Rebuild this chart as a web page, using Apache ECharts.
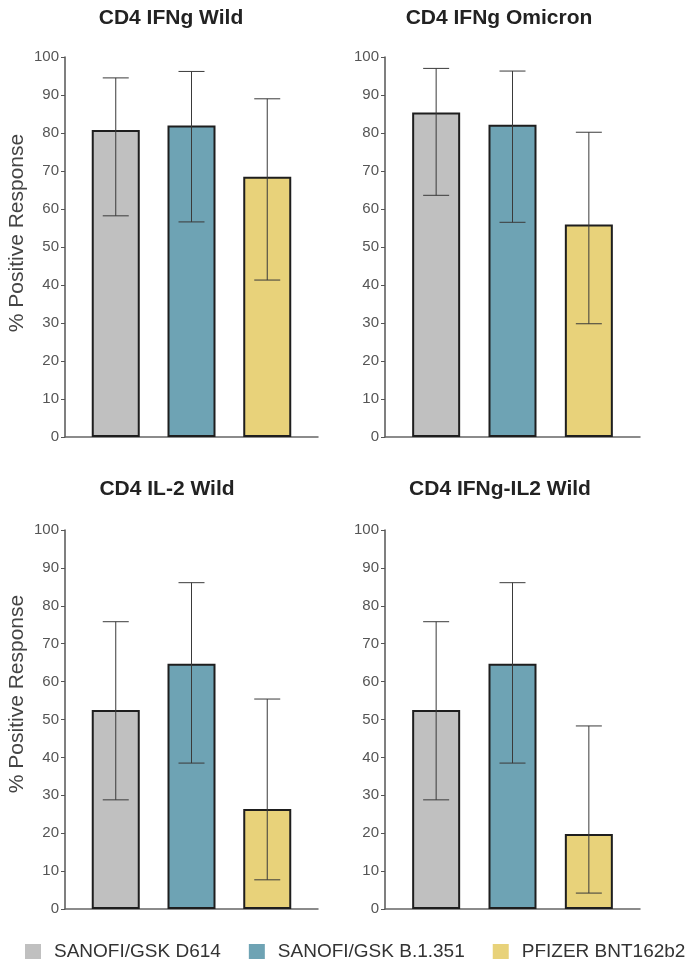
<!DOCTYPE html>
<html>
<head>
<meta charset="utf-8">
<script src="https://cdn.jsdelivr.net/npm/echarts@6/dist/echarts.min.js"></script>
<style>
html,body{margin:0;padding:0;background:#fff;}
#chart{width:696px;height:962px;}
</style>
</head>
<body>
<div id="chart"></div>
<script>
// ---- data ----
const vaccines = ['SANOFI/GSK D614', 'SANOFI/GSK B.1.351', 'PFIZER BNT162b2'];
const panelTitles = ['CD4 IFNg Wild', 'CD4 IFNg Omicron', 'CD4 IL-2 Wild', 'CD4 IFNg-IL2 Wild'];
const yTicks = [0, 10, 20, 30, 40, 50, 60, 70, 80, 90, 100];
const yAxisTitle = '% Positive Response';

// values per vaccine, one entry per panel (in panelTitles order)
const d614Mean   = [80.8, 85.4, 52.5, 52.5];
const d614Upper  = [94.5, 97.0, 75.8, 75.8];
const d614Lower  = [58.2, 63.6, 28.8, 28.8];

const b1351Mean  = [82.0, 82.2, 64.7, 64.7];
const b1351Upper = [96.2, 96.3, 86.1, 86.1];
const b1351Lower = [56.6, 56.5, 38.5, 38.5];

const pfizerMean  = [68.5, 55.9, 26.4, 19.8];
const pfizerUpper = [89.0, 80.2, 55.4, 48.3];
const pfizerLower = [41.3, 29.8, 7.7, 4.2];

// ---- styling / layout ----
const means = [d614Mean, b1351Mean, pfizerMean];
const uppers = [d614Upper, b1351Upper, pfizerUpper];
const lowers = [d614Lower, b1351Lower, pfizerLower];
const colors = ['#c0c0c0', '#6ea3b4', '#e8d27a'];
const fontFam = '"Liberation Sans", Arial, Helvetica, sans-serif';

const grids = [
  {left: 65,  top: 57,  width: 253, height: 380},
  {left: 385, top: 57,  width: 255, height: 380},
  {left: 65,  top: 530, width: 253, height: 379},
  {left: 385, top: 530, width: 255, height: 379}
];
const titlePos = [
  {left: 166, top: 3},
  {left: 494, top: 3},
  {left: 162, top: 474},
  {left: 495, top: 474}
];

const xAxes = grids.map((g, i) => ({
  type: 'value', gridIndex: i, min: -0.67, max: 2.67,
  axisLine: {show: true, onZero: false, lineStyle: {color: '#666', width: 1.5}},
  axisTick: {show: false}, axisLabel: {show: false}, splitLine: {show: false}
}));
const yAxes = grids.map((g, i) => ({
  type: 'value', gridIndex: i, min: 0, max: 100, interval: 10,
  axisLine: {show: true, onZero: false, lineStyle: {color: '#555', width: 1.5}},
  axisTick: {show: true, length: 4, lineStyle: {color: '#555', width: 1}},
  axisLabel: {
    color: '#555', fontSize: 15, fontFamily: fontFam, margin: 6,
    customValues: yTicks
  },
  splitLine: {show: false}
}));

const series = [];
grids.forEach((g, gi) => {
  vaccines.forEach((v, vi) => {
    series.push({
      type: 'bar', name: v, xAxisIndex: gi, yAxisIndex: gi,
      barWidth: 48, barGap: '-100%',
      itemStyle: {color: colors[vi], borderColor: '#1e1e1e', borderWidth: 2},
      data: [[vi, means[vi][gi]]],
      silent: true, animation: false
    });
  });
  series.push({
    type: 'custom', name: 'err' + gi, xAxisIndex: gi, yAxisIndex: gi, z: 5,
    encode: {x: 0, y: [1, 2]},
    data: vaccines.map((v, vi) => [vi, lowers[vi][gi], uppers[vi][gi]]),
    renderItem: function (params, api) {
      const x = api.value(0);
      const pLo = api.coord([x, api.value(1)]);
      const pHi = api.coord([x, api.value(2)]);
      const hw = 13;
      const st = {stroke: '#3a3a3a', lineWidth: 1};
      return {type: 'group', children: [
        {type: 'line', shape: {x1: pHi[0], y1: pHi[1], x2: pLo[0], y2: pLo[1]}, style: st},
        {type: 'line', shape: {x1: pHi[0] - hw, y1: pHi[1], x2: pHi[0] + hw, y2: pHi[1]}, style: st},
        {type: 'line', shape: {x1: pLo[0] - hw, y1: pLo[1], x2: pLo[0] + hw, y2: pLo[1]}, style: st}
      ]};
    },
    silent: true, animation: false
  });
});

const chart = echarts.init(document.getElementById('chart'), null, {renderer: 'canvas'});
chart.setOption({
  backgroundColor: '#fff',
  animation: false,
  title: panelTitles.map((t, i) => ({
    text: t, left: titlePos[i].left, top: titlePos[i].top, textAlign: 'center',
    textStyle: {fontSize: 21, fontWeight: 'bold', color: '#222', fontFamily: fontFam}
  })),
  legend: {
    data: vaccines, left: 25, top: 942, width: 680, padding: 0,
    itemWidth: 16, itemHeight: 15, itemGap: 28,
    icon: 'rect', selectedMode: false,
    itemStyle: {borderWidth: 0},
    textStyle: {fontSize: 19, color: '#333', fontFamily: fontFam, padding: [0, 0, 0, 8]}
  },
  grid: grids,
  xAxis: xAxes,
  yAxis: yAxes,
  graphic: [
    {type: 'text', x: 17, y: 233, rotation: Math.PI / 2,
     style: {text: yAxisTitle, fontSize: 21, fill: '#444', fontFamily: fontFam, align: 'center', verticalAlign: 'middle'}},
    {type: 'text', x: 17, y: 694, rotation: Math.PI / 2,
     style: {text: yAxisTitle, fontSize: 21, fill: '#444', fontFamily: fontFam, align: 'center', verticalAlign: 'middle'}}
  ],
  series: series
});
</script>
</body>
</html>
